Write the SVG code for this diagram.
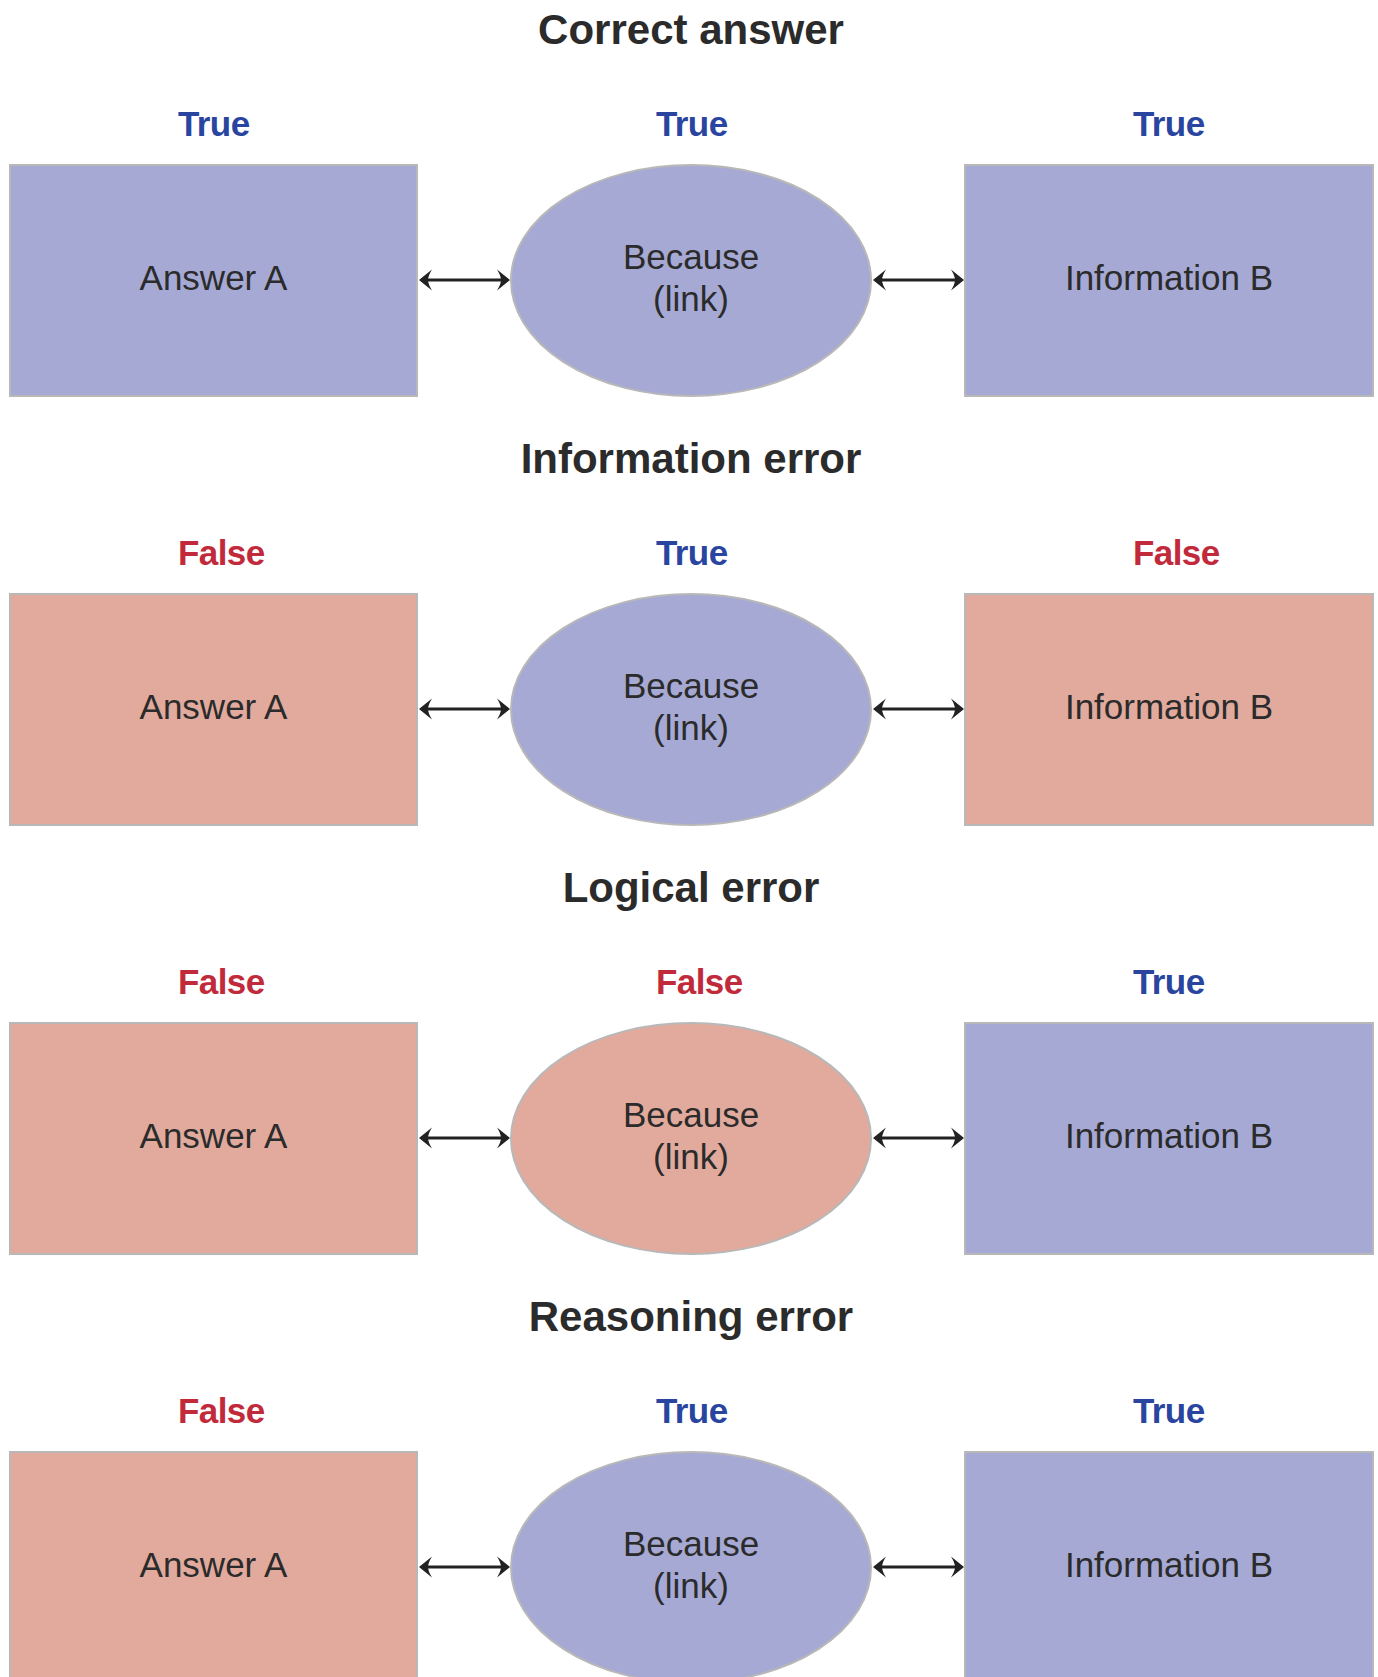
<svg xmlns="http://www.w3.org/2000/svg" width="1378" height="1677" viewBox="0 0 1378 1677">
<style>
.bg{fill:#ffffff}
.title{font-family:"Liberation Sans",Arial,sans-serif;font-weight:bold;font-size:42px;fill:#2b2b2b;text-anchor:middle}
.lbl{font-family:"Liberation Sans",Arial,sans-serif;font-weight:bold;font-size:35px;letter-spacing:-0.6px}
.t{fill:#2a45a0}
.f{fill:#c12a3a}
.node{stroke:#b8b8b8;stroke-width:2}
.blue{fill:#a6a9d4}
.red{fill:#e1aa9d}
.txt{font-family:"Liberation Sans",Arial,sans-serif;font-size:35px;fill:#2b2b2b;text-anchor:middle}
.conn{stroke:#222;stroke-width:3;fill:none}
</style>
<defs>
<marker id="ah" viewBox="-13 -11 15 22" refX="-1" refY="0" markerWidth="15" markerHeight="22" markerUnits="userSpaceOnUse" orient="auto-start-reverse">
<path d="M1,0 L-12,-10.5 Q-8,-4 -8,0 Q-8,4 -12,10.5 Z" fill="#222"/>
</marker>
</defs>
<rect class="bg" x="0" y="0" width="1378" height="1677"/>

<!-- Row 1 -->
<g id="row1">
<text class="title" x="691" y="44">Correct answer</text>
<text class="lbl t" x="178" y="136">True</text>
<text class="lbl t" x="656" y="136">True</text>
<text class="lbl t" x="1133" y="136">True</text>
<g id="r1-answer"><rect class="node blue" x="10" y="165" width="407" height="231"/><text class="txt" x="213.5" y="290">Answer A</text></g>
<g id="r1-because"><ellipse class="node blue" cx="691" cy="280.5" rx="180" ry="115.5"/><text class="txt" x="691" y="269">Because</text><text class="txt" x="691" y="311">(link)</text></g>
<g id="r1-info"><rect class="node blue" x="965" y="165" width="408" height="231"/><text class="txt" x="1169" y="290">Information B</text></g>
</g>

<!-- Row 2 -->
<g id="row2">
<text class="title" x="691" y="473">Information error</text>
<text class="lbl f" x="178" y="565">False</text>
<text class="lbl t" x="656" y="565">True</text>
<text class="lbl f" x="1133" y="565">False</text>
<g id="r2-answer"><rect class="node red" x="10" y="594" width="407" height="231"/><text class="txt" x="213.5" y="719">Answer A</text></g>
<g id="r2-because"><ellipse class="node blue" cx="691" cy="709.5" rx="180" ry="115.5"/><text class="txt" x="691" y="698">Because</text><text class="txt" x="691" y="740">(link)</text></g>
<g id="r2-info"><rect class="node red" x="965" y="594" width="408" height="231"/><text class="txt" x="1169" y="719">Information B</text></g>
</g>

<!-- Row 3 -->
<g id="row3">
<text class="title" x="691" y="902">Logical error</text>
<text class="lbl f" x="178" y="994">False</text>
<text class="lbl f" x="656" y="994">False</text>
<text class="lbl t" x="1133" y="994">True</text>
<g id="r3-answer"><rect class="node red" x="10" y="1023" width="407" height="231"/><text class="txt" x="213.5" y="1148">Answer A</text></g>
<g id="r3-because"><ellipse class="node red" cx="691" cy="1138.5" rx="180" ry="115.5"/><text class="txt" x="691" y="1127">Because</text><text class="txt" x="691" y="1169">(link)</text></g>
<g id="r3-info"><rect class="node blue" x="965" y="1023" width="408" height="231"/><text class="txt" x="1169" y="1148">Information B</text></g>
</g>

<!-- Row 4 -->
<g id="row4">
<text class="title" x="691" y="1331">Reasoning error</text>
<text class="lbl f" x="178" y="1423">False</text>
<text class="lbl t" x="656" y="1423">True</text>
<text class="lbl t" x="1133" y="1423">True</text>
<g id="r4-answer"><rect class="node red" x="10" y="1452" width="407" height="231"/><text class="txt" x="213.5" y="1577">Answer A</text></g>
<g id="r4-because"><ellipse class="node blue" cx="691" cy="1567.5" rx="180" ry="115.5"/><text class="txt" x="691" y="1556">Because</text><text class="txt" x="691" y="1598">(link)</text></g>
<g id="r4-info"><rect class="node blue" x="965" y="1452" width="408" height="231"/><text class="txt" x="1169" y="1577">Information B</text></g>
</g>

<g id="connectors">
<line class="conn" x1="421" y1="280" x2="508" y2="280" marker-start="url(#ah)" marker-end="url(#ah)"/>
<line class="conn" x1="875" y1="280" x2="962" y2="280" marker-start="url(#ah)" marker-end="url(#ah)"/>
<line class="conn" x1="421" y1="709" x2="508" y2="709" marker-start="url(#ah)" marker-end="url(#ah)"/>
<line class="conn" x1="875" y1="709" x2="962" y2="709" marker-start="url(#ah)" marker-end="url(#ah)"/>
<line class="conn" x1="421" y1="1138" x2="508" y2="1138" marker-start="url(#ah)" marker-end="url(#ah)"/>
<line class="conn" x1="875" y1="1138" x2="962" y2="1138" marker-start="url(#ah)" marker-end="url(#ah)"/>
<line class="conn" x1="421" y1="1567" x2="508" y2="1567" marker-start="url(#ah)" marker-end="url(#ah)"/>
<line class="conn" x1="875" y1="1567" x2="962" y2="1567" marker-start="url(#ah)" marker-end="url(#ah)"/>
</g>
</svg>
